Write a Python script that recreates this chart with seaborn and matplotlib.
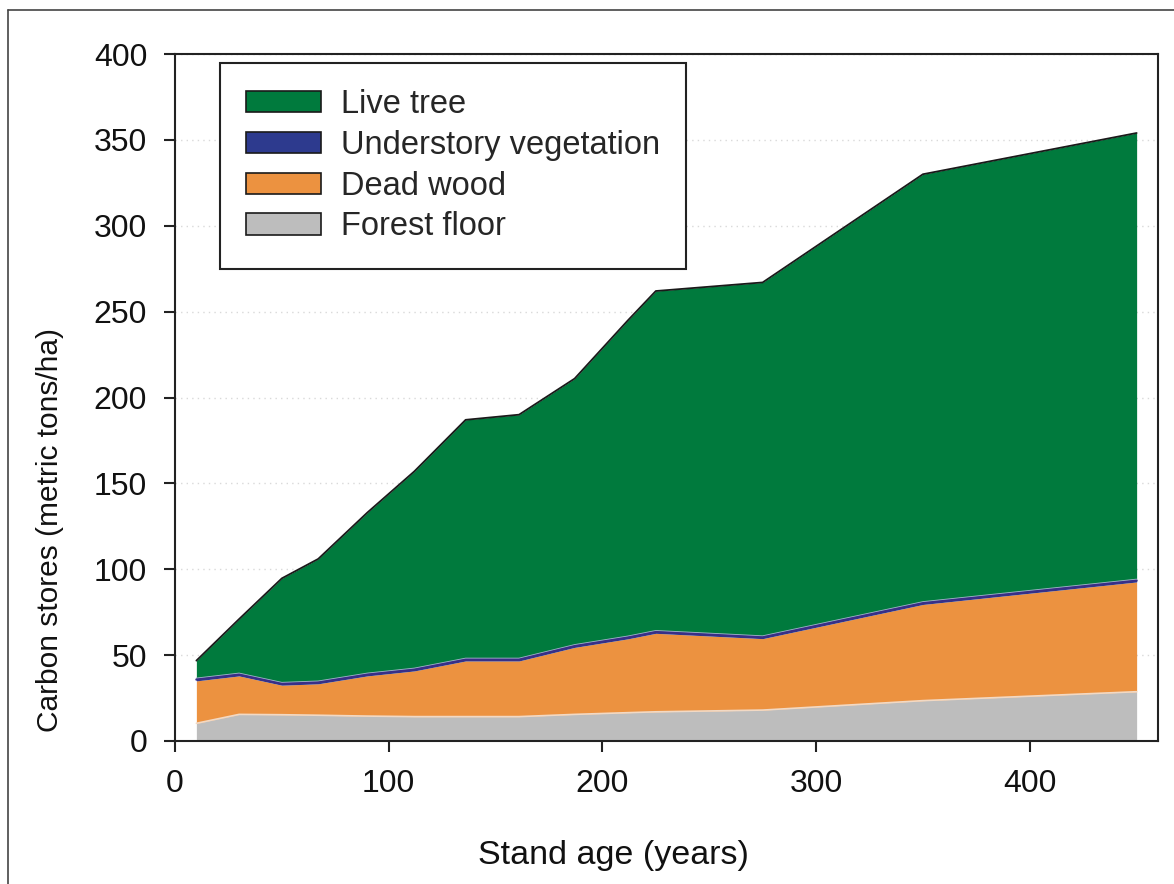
import matplotlib
matplotlib.use("Agg")
import matplotlib.pyplot as plt
import seaborn as sns
import numpy as np
import pandas as pd
from matplotlib.patches import Patch
from matplotlib.lines import Line2D

# ---- data ----
stand_age = [10, 30, 50, 67, 90, 112, 136, 161, 187, 212, 225, 275, 350, 450]
forest_floor = [10.3, 15.5, 15.3, 15.0, 14.5, 14.2, 14.2, 14.2, 15.5, 16.5, 17.0, 18.0, 23.5, 28.7]
dead_wood = [24.7, 22.4, 17.2, 18.3, 23.4, 26.6, 32.4, 32.4, 39.0, 43.0, 45.7, 41.6, 56.0, 63.9]
understory = [1.5, 1.5, 1.5, 1.5, 1.5, 1.5, 1.5, 1.5, 1.5, 1.5, 1.5, 1.5, 1.5, 1.5]
live_tree = [10.3, 31.6, 60.7, 71.2, 93.6, 114.7, 138.9, 141.9, 155.0, 184.0, 197.8, 205.9, 249.0, 259.9]

series_names = ["Forest floor", "Dead wood", "Understory vegetation", "Live tree"]
legend_order = ["Live tree", "Understory vegetation", "Dead wood", "Forest floor"]
colors = {"Live tree": "#007A3D", "Understory vegetation": "#2D3A8E",
          "Dead wood": "#EC9240", "Forest floor": "#BDBDBD"}

x_ticks = [0, 100, 200, 300, 400]
y_ticks = [0, 50, 100, 150, 200, 250, 300, 350, 400]

df = pd.DataFrame({"Stand age": stand_age, "Forest floor": forest_floor,
                   "Dead wood": dead_wood, "Understory vegetation": understory,
                   "Live tree": live_tree})

sns.set_theme(style="white")
plt.rcParams["font.family"] = ["Liberation Sans", "DejaVu Sans"]

fig = plt.figure(figsize=(11.74, 8.84), dpi=100)
ax = fig.add_axes([175/1174, 1-741/884, (1158-175)/1174, (741-54)/884])

ax.set_axisbelow(True)
ax.yaxis.grid(True, linestyle=(0, (1, 3)), color="#d9d9d9", linewidth=1.0)

ax.stackplot(df["Stand age"], *[df[n] for n in series_names],
             colors=[colors[n] for n in series_names], linewidth=0, zorder=2)

# boundary lines
cum = df[series_names].cumsum(axis=1)
sns.lineplot(x=df["Stand age"], y=cum["Forest floor"], ax=ax, color="#F2D9C4", lw=1.2, zorder=3)
sns.lineplot(x=df["Stand age"], y=cum["Understory vegetation"], ax=ax, color="#9FB4C8", lw=1.0, zorder=3)
sns.lineplot(x=df["Stand age"], y=cum["Dead wood"] + 0.75, ax=ax, color="#3A2E86", lw=1.6, zorder=3)
sns.lineplot(x=df["Stand age"], y=cum["Live tree"], ax=ax, color="#1a1a1a", lw=1.3, zorder=4)

ax.set_xlim(0, 460)
ax.set_ylim(0, 400)
ax.set_xticks(x_ticks)
ax.set_yticks(y_ticks)
ax.tick_params(axis="both", direction="out", length=8, width=1.5, color="#222222",
               labelsize=23, pad=12, bottom=True, left=True, labelcolor="#111111")
for s in ax.spines.values():
    s.set_visible(True)
    s.set_color("#222222")
    s.set_linewidth(1.5)

ax.set_xlabel("Stand age (years)", fontsize=24.5, color="#111111")
ax.set_ylabel("Carbon stores (metric tons/ha)", fontsize=21.5, color="#111111")
ax.xaxis.set_label_coords((613-175)/983, (741-840)/687)
ax.yaxis.set_label_coords((64-175)/983, (741-530)/687)

handles = [Patch(facecolor=colors[n], edgecolor="#1a1a1a", linewidth=1.2) for n in legend_order]
leg = ax.legend(handles, legend_order, loc="upper left", bbox_to_anchor=(0.0457, 0.987),
                borderaxespad=0, fontsize=23.5, frameon=True, fancybox=False,
                handlelength=2.3, handleheight=0.62, handletextpad=0.6,
                labelspacing=0.3, borderpad=0.8)
leg.get_frame().set_edgecolor("#222222")
leg.get_frame().set_linewidth(1.5)
leg.get_frame().set_facecolor("white")
leg.get_frame().set_alpha(1)
leg.set_zorder(5)

# figure frame lines (top and left) as in the reference
fig.add_artist(Line2D([8/1174, 1.0], [1-10/884, 1-10/884], transform=fig.transFigure,
                      color="#444444", lw=1.2))
fig.add_artist(Line2D([8/1174, 8/1174], [0, 1-10/884], transform=fig.transFigure,
                      color="#444444", lw=1.2))

fig.savefig("out.png", dpi=100, facecolor="white")
